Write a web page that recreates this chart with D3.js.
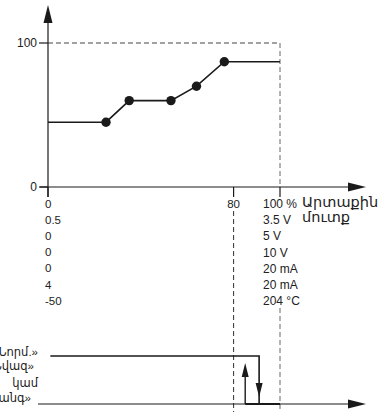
<!DOCTYPE html>
<html><head><meta charset="utf-8">
<script src="https://cdn.jsdelivr.net/npm/d3@7"></script>
<style>
html,body{margin:0;padding:0;background:#fff;}
svg text{font-family:"Liberation Sans",Arial,"DejaVu Sans",sans-serif;fill:#222;}
</style></head>
<body>
<svg id="c" width="382" height="412"></svg>
<script>
// ---- data ----
const curveX = [0, 25, 35, 53, 64, 76, 100];
const curveY = [45, 45, 60, 60, 70, 87, 87];
const markerIdx = [1, 2, 3, 4, 5];
const yTickValues = [0, 100];
const xTickValues = [0, 80, 100];
const leftRangeLabels = ["0", "0.5", "0", "0", "0", "4", "-50"];
const rightRangeLabels = ["100 %", "3.5 V", "5 V", "10 V", "20 mA", "20 mA", "204 °C"];
const xAxisTitle = ["Արտաքին", "մուտք"];
const relayLabels = ["«Նորմ.»", "«Նվազ»", "կամ", "«Ահազանգ»"];
const relayOn = 85;   // % input where relay switches up
const relayOff = 91;  // % input where relay switches down
const setPoint = 80;

const svg = d3.select("#c");
const ink = "#1a1a1a";
const x = d3.scaleLinear().domain([0, 100]).range([48, 280]);
const y = d3.scaleLinear().domain([0, 100]).range([187, 43]);
const yr = d3.scaleLinear().domain([0, 1]).range([404, 356]);

function arrowPath(g, tipX, tipY, dir, len, half) {
  let p;
  if (dir === "up") p = [[tipX, tipY], [tipX - half, tipY + len], [tipX + half, tipY + len]];
  else if (dir === "down") p = [[tipX, tipY], [tipX - half, tipY - len], [tipX + half, tipY - len]];
  else p = [[tipX, tipY], [tipX - len, tipY - half], [tipX - len, tipY + half]];
  g.append("path").attr("d", "M" + p.map(d => d.join(",")).join("L") + "Z").attr("fill", ink);
}

// dashed guides
svg.append("line").attr("x1", x(0)).attr("x2", x(100)).attr("y1", y(100)).attr("y2", y(100))
  .attr("stroke", "#444").attr("stroke-width", 1).attr("stroke-dasharray", "5,3");
svg.append("line").attr("x1", x(100)).attr("x2", x(100)).attr("y1", y(100)).attr("y2", y(0))
  .attr("stroke", "#666").attr("stroke-width", 1).attr("stroke-dasharray", "5,3");
svg.append("line").attr("x1", x(100)).attr("x2", x(100)).attr("y1", 308).attr("y2", 412)
  .attr("stroke", "#666").attr("stroke-width", 1).attr("stroke-dasharray", "5,3");
svg.append("line").attr("x1", x(setPoint)).attr("x2", x(setPoint)).attr("y1", 211).attr("y2", 412)
  .attr("stroke", "#333").attr("stroke-width", 1).attr("stroke-dasharray", "5,3");

// axes
const axes = svg.append("g");
axes.append("line").attr("x1", x(0)).attr("x2", x(0)).attr("y1", 197).attr("y2", 20)
  .attr("stroke", ink).attr("stroke-width", 1.2);
arrowPath(axes, x(0), 5, "up", 18, 4.5);
axes.append("line").attr("x1", 40).attr("x2", 350).attr("y1", y(0)).attr("y2", y(0))
  .attr("stroke", ink).attr("stroke-width", 1.2);
arrowPath(axes, 366, y(0), "right", 18, 4.5);

yTickValues.forEach(v => {
  axes.append("line").attr("x1", 39).attr("x2", x(0)).attr("y1", y(v)).attr("y2", y(v))
    .attr("stroke", ink).attr("stroke-width", 1.2);
  axes.append("text").attr("x", 37).attr("y", y(v)).attr("dy", "0.35em")
    .attr("text-anchor", "end").attr("font-size", 12).text(v);
});
xTickValues.forEach(v => {
  axes.append("line").attr("x1", x(v)).attr("x2", x(v)).attr("y1", y(0)).attr("y2", 197)
    .attr("stroke", ink).attr("stroke-width", 1.2);
});
axes.append("text").attr("x", x(setPoint)).attr("y", 204).attr("dy", "0.35em")
  .attr("text-anchor", "middle").attr("font-size", 11.5).text(setPoint);

// range labels
const rowY = i => 204 + i * 16.1;
leftRangeLabels.forEach((t, i) => {
  svg.append("text").attr("x", 45).attr("y", rowY(i)).attr("dy", "0.35em")
    .attr("font-size", 11.5).text(t);
});
rightRangeLabels.forEach((t, i) => {
  svg.append("text").attr("x", 263).attr("y", rowY(i)).attr("dy", "0.35em")
    .attr("font-size", 12).text(t);
});
xAxisTitle.forEach((t, i) => {
  svg.append("text").attr("x", 302).attr("y", 202 + i * 15).attr("dy", "0.35em")
    .attr("font-size", 14.5).text(t);
});

// curve
const pts = curveX.map((v, i) => [v, curveY[i]]);
svg.append("path").datum(pts)
  .attr("d", d3.line().x(d => x(d[0])).y(d => y(d[1])))
  .attr("fill", "none").attr("stroke", ink).attr("stroke-width", 1.6);
svg.selectAll("circle.m").data(markerIdx.map(i => pts[i])).join("circle")
  .attr("class", "m").attr("cx", d => x(d[0])).attr("cy", d => y(d[1])).attr("r", 4.7)
  .attr("fill", ink);

// relay diagram
const rel = svg.append("g");
rel.append("line").attr("x1", 38).attr("x2", 350).attr("y1", yr(0)).attr("y2", yr(0))
  .attr("stroke", ink).attr("stroke-width", 1.2);
arrowPath(rel, 366, yr(0), "right", 18, 4.5);
rel.append("line").attr("x1", x(relayOn)).attr("x2", x(100)).attr("y1", yr(0)).attr("y2", yr(0))
  .attr("stroke", ink).attr("stroke-width", 2.2);
rel.append("path")
  .attr("d", d3.line()([[x(1), yr(1)], [x(relayOff), yr(1)], [x(relayOff), yr(0)]]))
  .attr("fill", "none").attr("stroke", ink).attr("stroke-width", 1.6);
rel.append("line").attr("x1", x(relayOn)).attr("x2", x(relayOn)).attr("y1", yr(0)).attr("y2", 372)
  .attr("stroke", ink).attr("stroke-width", 1.4);
arrowPath(rel, x(relayOn), 363, "up", 14, 3.5);
arrowPath(rel, x(relayOff), 397, "down", 14, 3.5);

const relY = [352, 366, 383, 398];
const relEnd = [38, 34, 38, 31];
relayLabels.forEach((t, i) => {
  rel.append("text").attr("x", relEnd[i]).attr("y", relY[i]).attr("dy", "0.35em")
    .attr("text-anchor", "end").attr("font-size", 11.5).text(t);
});
</script>
</body></html>
